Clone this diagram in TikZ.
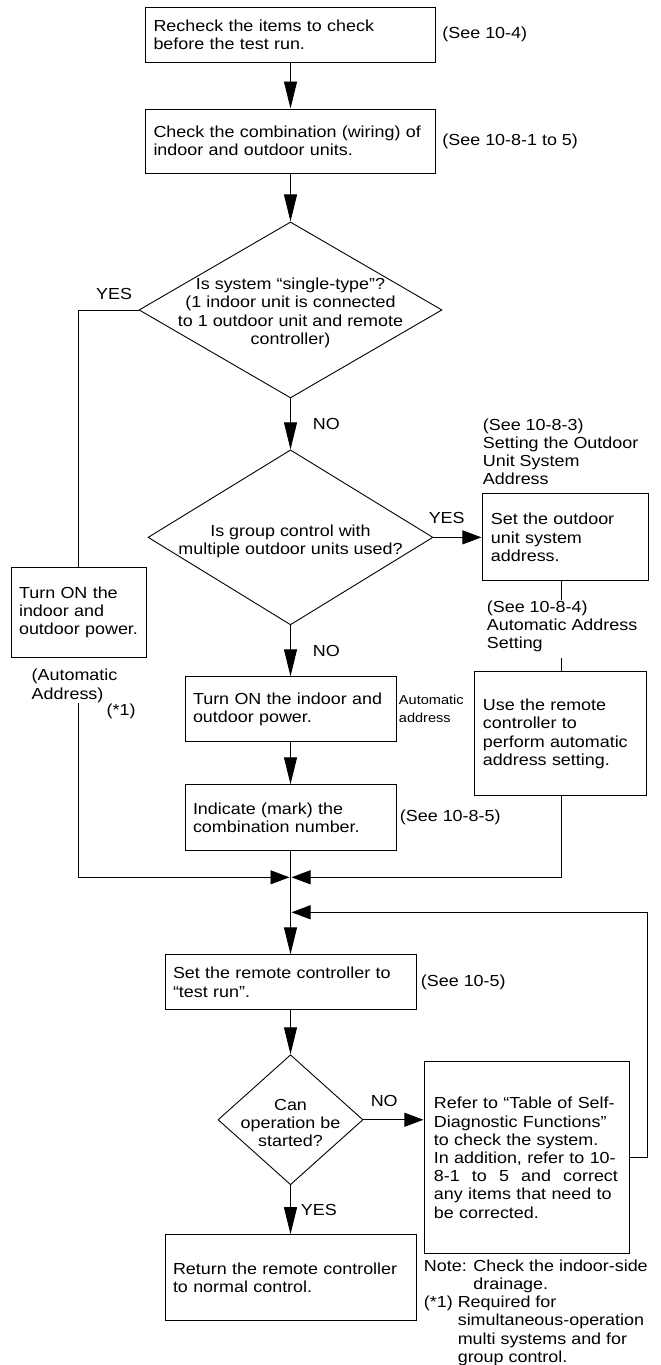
\documentclass[tikz,border=0pt]{standalone}
\usepackage{fontspec}
\setmainfont{Liberation Sans}[FakeStretch=1.12]
\usetikzlibrary{shapes.geometric, arrows.meta, positioning}

\begin{document}
\begin{tikzpicture}[
    font=\fontsize{16}{18.2}\selectfont,
    line width=0.9pt,
    stepbox/.style={draw, line width=1pt, align=left, inner xsep=8pt, inner ysep=0pt},
    decision/.style={diamond, draw, inner sep=0pt},
    qtext/.style={align=center, inner sep=0pt},
    sidetxt/.style={align=left, inner sep=0pt},
    varr/.style={-{Triangle[length=27pt, width=13pt]}},
    harr/.style={-{Triangle[length=19pt, width=14pt]}, shorten >=1pt},
]
\useasboundingbox (0,0) rectangle (661pt,-1365pt);

% Main column
\node[stepbox, text width=274pt, minimum height=55pt] (recheck) at (290.5pt,-34.5pt) {Recheck the items to check\\before the test run.};
\node[stepbox, text width=274pt, minimum height=64pt, below=46pt of recheck] (combo) {Check the combination (wiring) of\\indoor and outdoor units.};
\node[decision, minimum width=303pt, minimum height=176pt, below=48pt of combo] (single) {};
\node[qtext, yshift=-3pt] (singletxt) at (single) {Is system “single-type”?\\(1 indoor unit is connected\\to 1 outdoor unit and remote\\controller)};
\node[decision, minimum width=285pt, minimum height=175pt, below=51pt of single] (group) {};
\node[qtext, yshift=-4pt] (grouptxt) at (group) {Is group control with\\multiple outdoor units used?};
\node[stepbox, text width=195pt, minimum height=65pt, below=51pt of group] (power) {Turn ON the indoor and\\outdoor power.};
\node[stepbox, text width=195pt, minimum height=66pt, below=42pt of power] (mark) {Indicate (mark) the\\combination number.};
\coordinate[below=26pt of mark.south] (merge);
\coordinate[below=35pt of merge] (loopin);
\node[stepbox, text width=235pt, minimum height=55pt, below=103pt of mark] (testrun) {Set the remote controller to\\“test run”.};
\node[decision, minimum width=145pt, minimum height=130pt, below=44pt of testrun] (canstart) {};
\node[qtext, yshift=-3pt] (cantxt) at (canstart) {Can\\operation be\\started?};
\node[stepbox, text width=235pt, minimum height=86pt, below=49pt of canstart] (ret) {Return the remote controller\\to normal control.};

% Right column (address setting)
\node[stepbox, text width=150pt, minimum height=87pt, right=49pt of group] (addrset) {Set the outdoor\\unit system\\address.};
\node[sidetxt, above right=8pt and 0pt of addrset.north west] (addrnote) {(See 10-8-3)\\Setting the Outdoor\\Unit System\\Address};
\node[stepbox, text width=156pt, minimum height=124pt, below=90pt of addrset, xshift=-5pt] (autoset) {Use the remote\\controller to\\perform automatic\\address setting.};
\node[sidetxt, above right=19pt and 12pt of autoset.north west] (autonote) {(See 10-8-4)\\Automatic Address\\Setting};

% Left column (single type)
\node[stepbox, text width=119pt, minimum height=90pt, left=1pt of group, yshift=-75pt] (lpower) {Turn ON the\\indoor and\\outdoor power.};
\node[sidetxt, below=11pt of lpower, xshift=-4pt] (autotxt) {(Automatic\\Address)};
\node[sidetxt, below right=1pt and 75pt of autotxt.south west] (star) {(*1)};
\node[sidetxt, above left=10pt and 6pt of single.west] (yes1) {YES};

% References beside the steps
\node[sidetxt, right=6pt of recheck] (see1) {(See 10-4)};
\node[sidetxt, right=6pt of combo] (see2) {(See 10-8-1 to 5)};
\node[sidetxt, right=2pt of power, font=\fontsize{13}{18}\selectfont] (autoaddr) {Automatic\\address};
\node[sidetxt, right=3pt of mark] (see3) {(See 10-8-5)};
\node[sidetxt, right=4pt of testrun] (see4) {(See 10-5)};

% Error handling
\node[stepbox, text width=187pt, minimum height=192pt, inner xsep=9pt, right=61pt of canstart, yshift=-38pt] (refer) {Refer to “Table of Self-\\Diagnostic Functions”\\to check the system.\\In addition, refer to 10-\\\makebox[184pt][s]{8-1\hfill to\hfill 5\hfill and\hfill correct}\\any items that need to\\be corrected.};
\coordinate[right=17pt of refer.east] (loopturn);
\node[sidetxt, below right=25pt and 7pt of ret.north east] (notes) {Note: Check the indoor-side\\\hphantom{Note: }drainage.\\(*1) Required for\\\hphantom{(*1) }simultaneous-operation\\\hphantom{(*1) }multi systems and for\\\hphantom{(*1) }group control.};

% Connectors
\draw[varr] (recheck) -- (combo);
\draw[varr] (combo) -- (single);
\draw[varr] (single) -- node[right=22pt, sidetxt]{NO} (group);
\draw[varr] (group) -- node[right=22pt, sidetxt]{NO} (power);
\draw[varr] (power) -- (mark);
\draw[varr] (mark) -- (testrun);
\draw[varr] (testrun) -- (canstart);
\draw[varr] (canstart) -- node[right=10pt, sidetxt]{YES} (ret);
\draw[harr] (group) -- node[pos=0.27, above=13pt, sidetxt]{YES} (addrset);
\draw[harr] (canstart.east) -- node[pos=0.34, above=13pt, sidetxt]{NO} (canstart.east -| refer.west);
\draw (single.west) -| (lpower.north);
\draw[harr] (autotxt.south -| lpower.south) |- (merge);
\draw (addrset.south -| autoset.north) -- (autonote.north -| autoset.north);
\draw[shorten <=6pt] (autonote.south -| autoset.north) -- (autoset.north);
\draw[harr] (autoset.south) |- (merge);
\draw[harr] (refer.east) -- (loopturn) |- (loopin);
\end{tikzpicture}
\end{document}
